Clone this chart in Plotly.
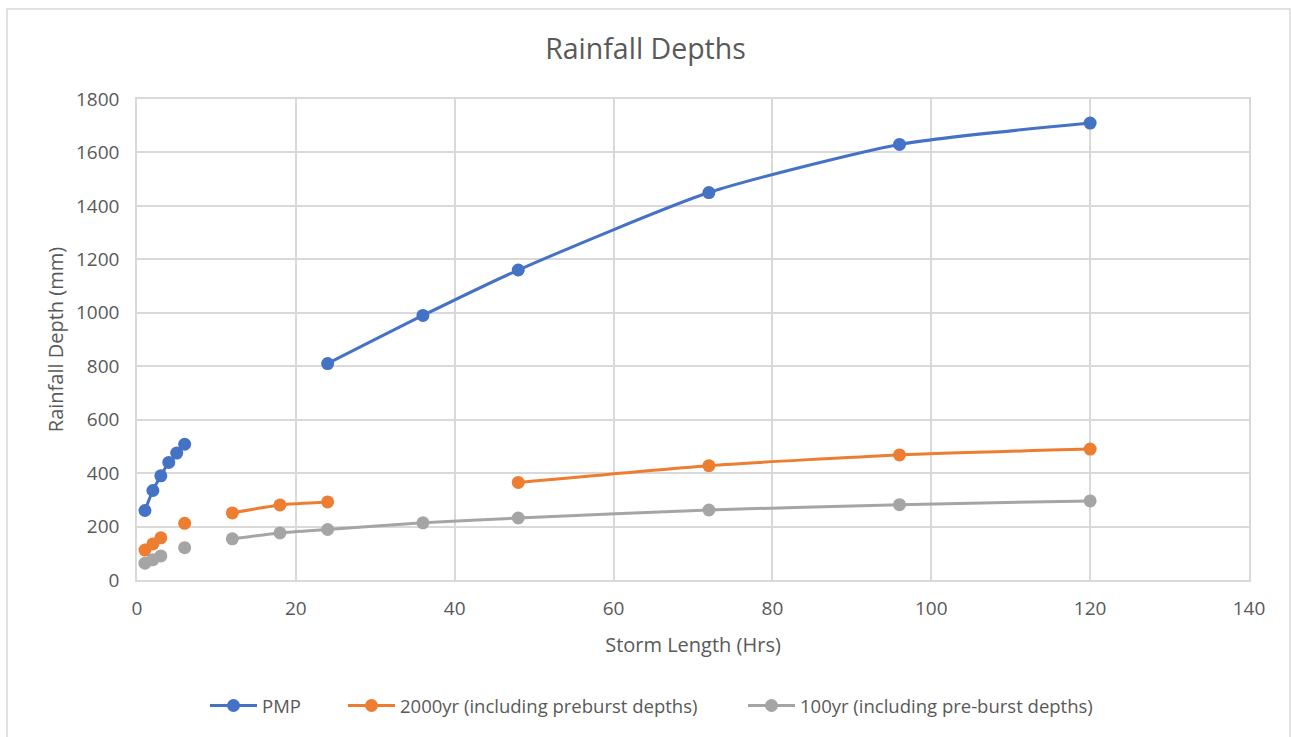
import plotly.graph_objects as go

# Storm durations (hours) and rainfall depths (mm); None breaks the line
pmp_hours = [1, 2, 3, 4, 5, 6, None, 24, 36, 48, 72, 96, 120]
pmp = [260, 335, 390, 440, 475, 508, None, 810, 990, 1160, 1450, 1630, 1710]

yr2000_hours = [1, 2, 3, None, 6, None, 12, 18, 24, None, 48, 72, 96, 120]
yr2000 = [112, 135, 158, None, 212, None, 251, 281, 292, None, 365, 428, 468, 490]

yr100_hours = [1, 2, 3, None, 6, None, 12, 18, 24, 36, 48, 72, 96, 120]
yr100 = [63, 76, 90, None, 121, None, 154, 176, 189, 214, 232, 262, 282, 296]

names = ["PMP", "2000yr (including preburst depths)", "100yr (including pre-burst depths)"]
colors = ["#4472C4", "#ED7D31", "#A5A5A5"]

x_ticks = [0, 20, 40, 60, 80, 100, 120, 140]
y_ticks = [0, 200, 400, 600, 800, 1000, 1200, 1400, 1600, 1800]

font_family = "Open Sans, Liberation Sans, sans-serif"
text_color = "#595959"
grid_color = "#D9D9D9"

# plot area in pixels
L, R, T, B = 137, 1249, 99, 580
W, H = 1291, 737
pw, ph = R - L, B - T


def px_x(p):
    return (p - L) / pw


def px_y(p):
    return (B - p) / ph


series = [(pmp_hours, pmp), (yr2000_hours, yr2000), (yr100_hours, yr100)]
legend_ids = ["legend", "legend2", "legend3"]
legend_left = [205, 343, 743]

fig = go.Figure()
for (xs, ys), name, col, lg in zip(series, names, colors, legend_ids):
    fig.add_trace(go.Scatter(
        x=xs, y=ys, name=name, mode="lines+markers",
        line=dict(color=col, width=3, shape="spline", smoothing=0.6),
        marker=dict(color=col, size=13),
        connectgaps=False, legend=lg,
    ))

legend_common = dict(orientation="h", yanchor="middle", y=px_y(706),
                     xanchor="left", font=dict(size=18.5, color=text_color),
                     bgcolor="rgba(0,0,0,0)", itemwidth=47)

fig.update_layout(
    width=W, height=H,
    paper_bgcolor="white", plot_bgcolor="white",
    margin=dict(l=L, r=W - R, t=T, b=H - B),
    font=dict(family=font_family, color=text_color, size=18),
    title=dict(text="Rainfall Depths", x=0.5, xanchor="center", y=1 - 49 / H, yanchor="middle",
               font=dict(size=28.5, color=text_color, family=font_family)),
    showlegend=True,
    legend=dict(legend_common, x=px_x(legend_left[0])),
    legend2=dict(legend_common, x=px_x(legend_left[1])),
    legend3=dict(legend_common, x=px_x(legend_left[2])),
    shapes=[dict(type="rect", xref="paper", yref="paper",
                 x0=px_x(7), x1=px_x(1290),
                 y0=px_y(760), y1=px_y(9),
                 line=dict(color="#D9D9D9", width=1.5), layer="below")],
)

fig.update_xaxes(
    range=[0, 140], tickvals=x_ticks, ticktext=[str(v) for v in x_ticks],
    showgrid=True, gridcolor=grid_color, gridwidth=1.5,
    showline=True, linecolor=grid_color, linewidth=1.5, mirror=True,
    zeroline=False, ticks="", ticklen=0, ticklabelstandoff=10,
    tickfont=dict(size=19, color=text_color),
    title=dict(text="Storm Length (Hrs)", font=dict(size=20, color=text_color), standoff=18),
)
fig.update_yaxes(
    range=[0, 1800], tickvals=y_ticks, ticktext=[str(v) for v in y_ticks],
    showgrid=True, gridcolor=grid_color, gridwidth=1.5,
    showline=True, linecolor=grid_color, linewidth=1.5, mirror=True,
    zeroline=False, ticks="", ticklen=0, ticklabelstandoff=12,
    tickfont=dict(size=19, color=text_color),
    title=dict(text="Rainfall Depth (mm)", font=dict(size=20, color=text_color), standoff=7),
)

fig.write_html("out.html")
